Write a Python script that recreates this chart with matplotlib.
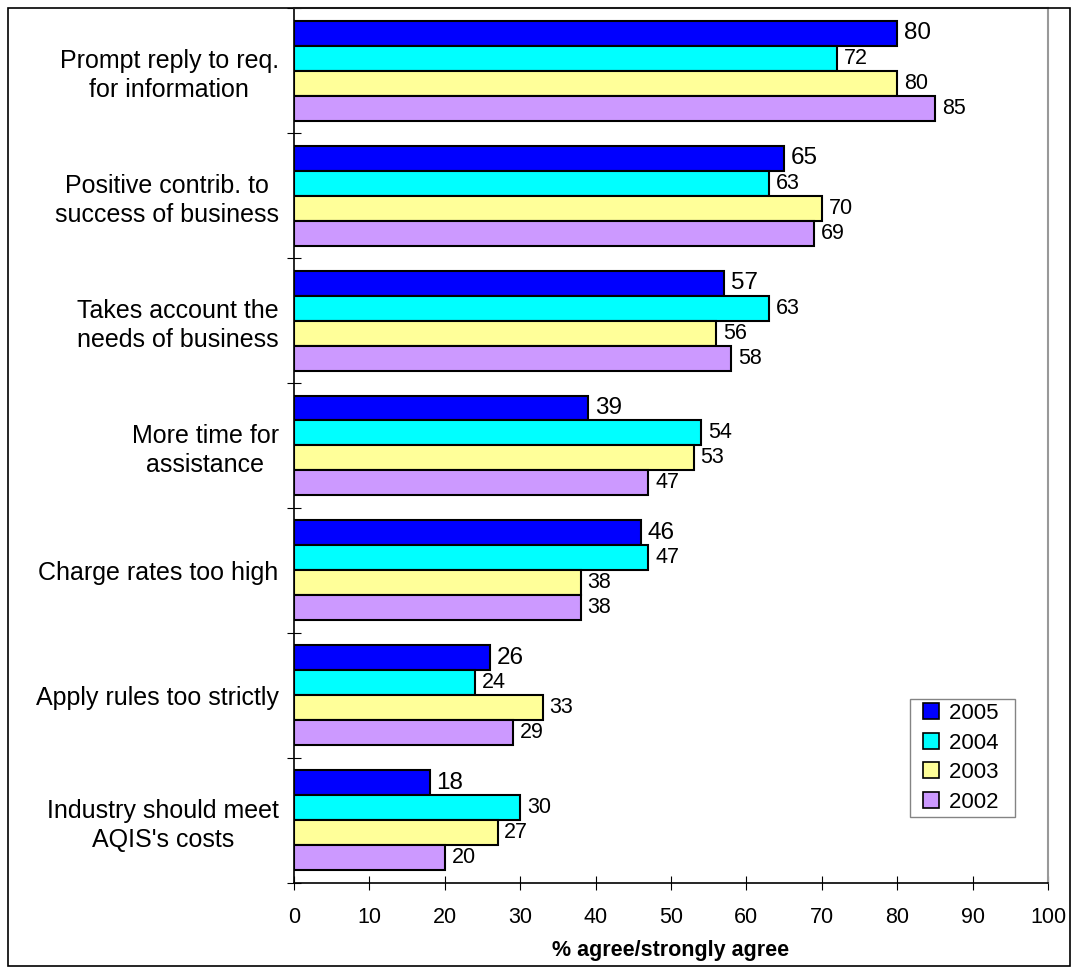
import numpy as np
import matplotlib.pyplot as plt
from matplotlib.lines import Line2D
from matplotlib.patches import Rectangle

plt.rcParams['font.family'] = ['Liberation Sans', 'DejaVu Sans']

categories = ['Prompt reply to req.\nfor information',
              'Positive contrib. to\nsuccess of business',
              'Takes account the\nneeds of business',
              'More time for\nassistance',
              'Charge rates too high',
              'Apply rules too strictly',
              'Industry should meet\nAQIS\'s costs']
years = ['2005', '2004', '2003', '2002']
v2005 = [80, 65, 57, 39, 46, 26, 18]
v2004 = [72, 63, 63, 54, 47, 24, 30]
v2003 = [80, 70, 56, 53, 38, 33, 27]
v2002 = [85, 69, 58, 47, 38, 29, 20]
series = [v2005, v2004, v2003, v2002]
colors = ['#0000FF', '#00FFFF', '#FFFF99', '#CC99FF']

fig = plt.figure(figsize=(10.71, 9.67), dpi=100)
ax = fig.add_axes([0.2745, 0.0869, 0.9785 - 0.2745, 0.9917 - 0.0869])

n = len(categories)
h = 0.2
ypos = np.arange(n)
for k, (vals, col) in enumerate(zip(series, colors)):
    y = ypos + (k - 1.5) * h
    ax.barh(y, vals, height=h, color=col, edgecolor='black', linewidth=1.5)
    fs = 17.5 if k == 0 else 15.5
    for yy, v in zip(y, vals):
        ax.text(v + 0.9, yy, str(v), va='center', ha='left', fontsize=fs)

ax.set_xlim(0, 100)
ax.set_ylim(n - 0.5, -0.5)
ax.set_xticks(np.arange(0, 101, 10))
ax.tick_params(axis='x', direction='inout', length=10, labelsize=15.5, pad=12)
ax.set_yticks(np.arange(n + 1) - 0.5, minor=False)
ax.set_yticklabels([])
ax.set_yticks(ypos, minor=True)
ax.set_yticklabels(categories, minor=True, fontsize=18, ha='right',
                   multialignment='center', linespacing=1.25)
ax.tick_params(axis='y', which='major', direction='inout', length=10)
ax.tick_params(axis='y', which='minor', length=0, pad=11)
ax.set_xlabel('% agree/strongly agree', fontsize=15.5, fontweight='bold', labelpad=9)

for s in ['top', 'right']:
    ax.spines[s].set_color('#999999')
    ax.spines[s].set_linewidth(1.5)
ax.spines['left'].set_linewidth(1.2)
ax.spines['bottom'].set_linewidth(1.2)

# square swatches centred in a wider handle box
handles = [Line2D([], [], marker='s', linestyle='none', markersize=11,
                  markerfacecolor=c, markeredgecolor='black', markeredgewidth=1.2)
           for c in colors]
leg = ax.legend(handles, [y + '  ' for y in years], loc='lower right',
                bbox_to_anchor=(0.956, 0.0754), fontsize=16,
                frameon=True, fancybox=False, handlelength=1.5,
                handletextpad=0.05, borderpad=0.2, labelspacing=0.38, borderaxespad=0)
leg.get_frame().set_edgecolor('#666666')
leg.get_frame().set_linewidth(1)

fig.patches.append(Rectangle((0.0075, 0.001), 0.9915, 0.991, transform=fig.transFigure,
                             fill=False, edgecolor='black', linewidth=1.2))

fig.savefig('out.png', dpi=100)
